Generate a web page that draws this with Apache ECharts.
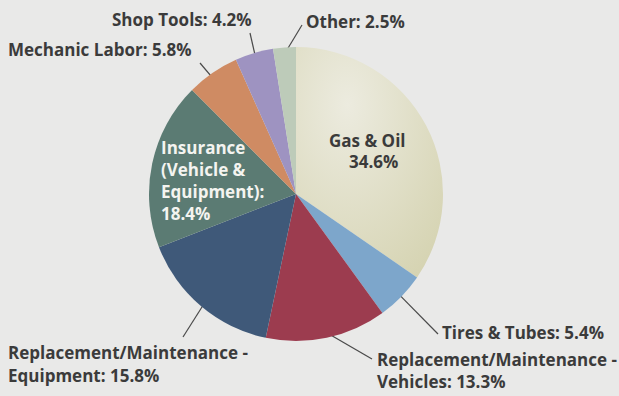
<!DOCTYPE html>
<html>
<head>
<meta charset="utf-8">
<script src="https://cdn.jsdelivr.net/npm/echarts@6/dist/echarts.min.js"></script>
<style>
html,body{margin:0;padding:0;background:#e9e9e8;}
#chart{width:619px;height:396px;}
</style>
</head>
<body>
<div id="chart"></div>
<script>
// Data
const categories = [
  'Gas & Oil',
  'Tires & Tubes',
  'Replacement/Maintenance - Vehicles',
  'Replacement/Maintenance - Equipment',
  'Insurance (Vehicle & Equipment)',
  'Mechanic Labor',
  'Shop Tools',
  'Other'
];
const values = [34.6, 5.4, 13.3, 15.8, 18.4, 5.8, 4.2, 2.5];
const colors = ['#d9d8bb', '#7da6cb', '#9c3c4f', '#3f5979', '#5b7b73', '#cf8b63', '#9e93c1', '#bdcbb9'];

// Layout (label anchors and leader-line settings)
const CX = 296, CY = 194, R = 147;
const labelCfg = [
  {x: 329, y: 151, align: 'left'},                                   // Gas & Oil (inside)
  {x: 442, y: 332, align: 'left', end: [438, 334], f: 0.99},         // Tires
  {x: 377, y: 370, align: 'left', end: [372, 359], f: 0.96},         // Repl Vehicles
  {x: 8,   y: 364, align: 'left', end: [183, 337], f: 0.93},         // Repl Equipment
  {x: 161, y: 180, align: 'left'},                                   // Insurance (inside)
  {x: 8,   y: 49,  align: 'left', end: [200, 63], f: 0.78},          // Mechanic Labor
  {x: 112, y: 19,  align: 'left', end: [250, 33], f: 0.95},          // Shop Tools
  {x: 306, y: 21,  align: 'left', end: [302, 25], f: 0.96}           // Other
];

function labelText(i) {
  const name = categories[i], v = values[i].toFixed(1) + '%';
  if (i === 0) return '{a|' + name + '}\n{b|' + v + '}';
  if (i === 4) return 'Insurance\n(Vehicle &\nEquipment):\n' + v;
  return name.replace(' - ', ' -\n') + ': ' + v;
}

const total = values.reduce((a, b) => a + b, 0);
function midAngle(i) {
  let cum = 0;
  for (let k = 0; k < i; k++) cum += values[k];
  return (cum + values[i] / 2) / total * 2 * Math.PI;
}

const font = 'Open Sans';
const fs = 17;
const data = categories.map((name, i) => {
  const item = {name: name, value: values[i], itemStyle: {color: colors[i]}};
  if (i === 0) {
    item.itemStyle.color = {
      type: 'radial', x: 0.35, y: 0.25, r: 0.9,
      colorStops: [{offset: 0, color: '#ecebdf'}, {offset: 1, color: '#d5d3b1'}]
    };
    item.label = {position: 'inside', color: '#3b3b3b', rich: {
      a: {fontFamily: font, fontWeight: 'bold', fontSize: fs, color: '#3b3b3b', lineHeight: 21},
      b: {fontFamily: font, fontWeight: 'bold', fontSize: fs, color: '#3b3b3b', lineHeight: 21, padding: [0, 0, 0, 20]}
    }};
    item.labelLine = {show: false};
  } else if (i === 2) {
    item.label = {lineHeight: 22};
  } else if (i === 4) {
    item.label = {position: 'inside', color: '#f4f4f0', lineHeight: 22};
    item.labelLine = {show: false};
  }
  return item;
});

const chart = echarts.init(document.getElementById('chart'), null, {renderer: 'svg'});
chart.setOption({
  backgroundColor: '#e9e9e8',
  animation: false,
  series: [{
    type: 'pie',
    center: [CX, CY],
    radius: R,
    startAngle: 90,
    clockwise: true,
    avoidLabelOverlap: false,
    itemStyle: {borderWidth: 0},
    label: {
      show: true,
      position: 'outside',
      formatter: p => labelText(p.dataIndex),
      fontFamily: font,
      fontWeight: 'bold',
      fontSize: fs,
      lineHeight: 23,
      color: '#3b3b3b'
    },
    labelLine: {show: true, lineStyle: {color: '#4a4a4a', width: 1.2}},
    labelLayout: function (params) {
      const i = params.dataIndex;
      const c = labelCfg[i];
      const res = {x: c.x, y: c.y, align: c.align, verticalAlign: 'middle'};
      if (c.end) {
        const a = midAngle(i);
        const px = CX + Math.sin(a) * R * c.f;
        const py = CY - Math.cos(a) * R * c.f;
        res.labelLinePoints = [[px, py], [c.end[0], c.end[1]], [c.end[0], c.end[1]]];
      }
      return res;
    },
    data: data
  }]
});
</script>
</body>
</html>
